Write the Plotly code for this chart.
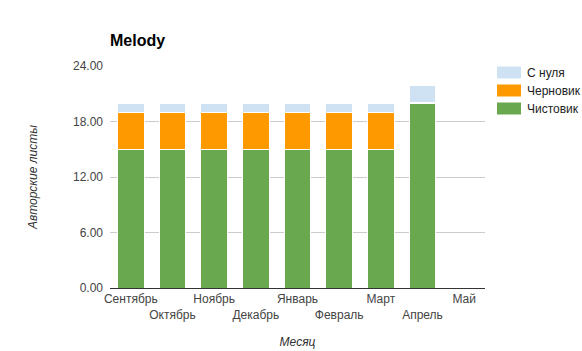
import plotly.graph_objects as go

months = ["Сентябрь", "Октябрь", "Ноябрь", "Декабрь", "Январь", "Февраль", "Март", "Апрель", "Май"]
clean = [15, 15, 15, 15, 15, 15, 15, 20, 0]
draft = [4, 4, 4, 4, 4, 4, 4, 0.1, 0]
scratch = [1, 1, 1, 1, 1, 1, 1, 1.8, 0]
y_ticks = [0, 6, 12, 18, 24]

series = [("Чистовик", clean, "#6aa84f"),
          ("Черновик", draft, "#ff9900"),
          ("С нуля", scratch, "#cfe2f3")]

tick_text = [m if i % 2 == 0 else "<br>" + m for i, m in enumerate(months)]

W, H = 582, 351
fig = go.Figure()
for name, vals, color in series:
    fig.add_trace(go.Bar(x=months, y=vals, name=name, marker_color=color,
                         marker_line_color="white", marker_line_width=1, showlegend=False))

# legend (drawn manually to get Google-style wide swatches)
for i, (name, vals, color) in enumerate(reversed(series)):
    cy = 72.5 + 18 * i
    fig.add_shape(type="rect", xref="paper", yref="paper",
                  x0=(497 - 110) / (W - 207), x1=(521 - 110) / (W - 207),
                  y0=(288 - (cy + 6)) / (288 - 66), y1=(288 - (cy - 6)) / (288 - 66),
                  fillcolor=color, line_width=0)
    fig.add_annotation(xref="paper", yref="paper", x=(525 - 110) / (W - 207),
                       y=(288 - cy) / (288 - 66), text=name, showarrow=False,
                       xanchor="left", yanchor="middle",
                       font=dict(size=12, color="#222"))

fig.update_layout(
    barmode="stack", bargap=0.36,
    width=W, height=H,
    margin=dict(l=110, r=97, t=66, b=63, autoexpand=False),
    paper_bgcolor="white", plot_bgcolor="white",
    font=dict(family="Liberation Sans, Arial", size=12, color="#444"),
    title=dict(text="<b>Melody</b>", x=110/W, xanchor="left", y=1 - 40/H, yanchor="middle",
               font=dict(size=16, color="#000")),
    showlegend=False,
)
fig.update_yaxes(range=[0, 24], tickvals=y_ticks, tickformat=".2f", gridcolor="#cccccc",
                 zeroline=True, zerolinecolor="#333", zerolinewidth=1, ticklabelstandoff=6,
                 title=dict(text="<i>Авторские листы</i>", font=dict(size=12, color="#333"), standoff=32))
fig.update_xaxes(tickvals=months, ticktext=tick_text, tickangle=0, showline=True, linecolor="#333",
                 title=dict(text="<i>Месяц</i>", font=dict(size=12, color="#333"), standoff=16))

fig.write_html("out.html")
